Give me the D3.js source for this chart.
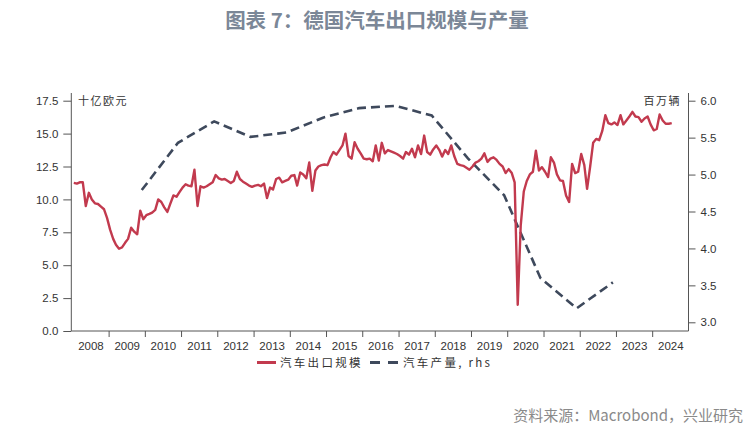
<!DOCTYPE html>
<html><head><meta charset="utf-8">
<script src="https://cdn.jsdelivr.net/npm/d3@7"></script>
<style>
html,body{margin:0;padding:0;background:#fff;}
svg{display:block;}
</style></head>
<body>
<svg id="chart" width="754" height="440"></svg>
<script>
// ---- data ----
const titleText = "图表 7：德国汽车出口规模与产量";
const sourceText = "资料来源：Macrobond，兴业研究";
const leftUnit = "十亿欧元";
const rightUnit = "百万辆";
const seriesNames = ["汽车出口规模", "汽车产量, rhs"];
const startYear = 2008;
// monthly car exports, bn EUR, Jan 2008 - Jul 2024
const exportValues = [
  11.25, 11.2, 11.3, 11.3, 9.5, 10.5, 10.0, 9.7, 9.65, 9.45, 9.25, 8.6,
  7.7, 7.0, 6.55, 6.25, 6.35, 6.7, 7.0, 7.85, 7.55, 7.35, 9.15, 8.5,
  8.8, 8.9, 9.0, 9.2, 10.0, 9.8, 9.4, 9.05, 9.7, 10.3, 10.2, 10.55,
  10.9, 11.15, 11.05, 11.0, 12.25, 9.5, 11.0, 10.9, 11.0, 11.15, 11.3, 11.85,
  11.6, 11.5, 11.55, 11.4, 11.25, 11.4, 12.1, 11.55, 11.35, 11.2, 11.05, 10.95,
  11.05, 11.1, 11.0, 11.2, 10.1, 10.9, 10.75, 11.55, 11.65, 11.3, 11.4, 11.5,
  11.8, 11.85, 11.05, 12.05, 11.9, 11.6, 12.8, 10.65, 12.2, 12.5, 12.6, 12.65,
  12.6, 13.2, 13.6, 13.4, 13.75, 14.1, 15.0, 13.3, 13.1, 14.35, 13.85, 13.5,
  13.1, 13.05, 13.1, 12.9, 14.1, 12.95, 14.3, 13.5, 13.75, 13.65, 13.55, 13.45,
  13.3, 13.1, 13.6, 13.4, 13.85, 13.2, 14.1, 13.45, 14.85, 13.6, 13.4, 13.8,
  14.1, 13.75, 13.25, 13.75, 13.45, 14.1, 13.3, 12.7, 12.6, 12.55, 12.4, 12.25,
  12.5, 12.8, 12.9, 13.1, 13.5, 12.85, 13.1, 13.2, 13.0, 12.7, 12.5, 12.0,
  12.3, 12.0, 11.3, 2.0, 8.0, 10.6, 11.4, 11.9, 12.1, 13.7, 12.2, 12.45,
  12.1, 11.7, 13.2, 12.8, 11.9, 11.45, 11.4, 10.3, 9.8, 12.7, 12.0, 12.1,
  13.45, 12.6, 10.8, 12.5, 14.3, 14.6, 14.5, 15.2, 16.4, 15.8, 15.7, 15.85,
  15.65, 16.4, 15.7, 16.0, 16.3, 16.65, 16.3, 16.25, 15.9, 16.15, 16.3, 15.7,
  15.25, 15.35, 16.45, 16.0, 15.75, 15.75, 15.8
];
// annual car production, million units (plotted at year end)
const productionYears = [2009, 2010, 2011, 2012, 2013, 2014, 2015, 2016, 2017, 2018, 2019, 2020, 2021, 2022];
const productionValues = [4.79, 5.43, 5.72, 5.51, 5.57, 5.77, 5.90, 5.93, 5.80, 5.22, 4.72, 3.60, 3.19, 3.54];
const xYears = [2008, 2009, 2010, 2011, 2012, 2013, 2014, 2015, 2016, 2017, 2018, 2019, 2020, 2021, 2022, 2023, 2024];
const leftTicks = [0, 2.5, 5, 7.5, 10, 12.5, 15, 17.5];
const rightTicks = [3.0, 3.5, 4.0, 4.5, 5.0, 5.5, 6.0];

// ---- layout ----
const svg = d3.select("#chart");
const X0 = 72.3, X1 = 688.5, YB = 331, YT = 93;
const red = "#c23a4e", navy = "#3e495c", axisCol = "#555", txt = "#333";

const x = d3.scaleTime()
  .domain([new Date(startYear, 0, 1), new Date(2025, 0, 1)])
  .range([X0, X1]);
const yL = d3.scaleLinear().domain([0, 17.5]).range([331, 100.7]);
const yR = d3.scaleLinear().domain([3.0, 6.0]).range([322.3, 100.7]);

const exportData = exportValues.map((v, i) => ({ d: new Date(startYear, i, 16), v }));
const prodData = productionYears.map((yr, i) => ({ d: new Date(yr, 11, 1), v: productionValues[i] }));

// title
svg.append("text").attr("x", 377).attr("y", 28).attr("text-anchor", "middle")
  .attr("font-family", "'Noto Sans CJK SC', sans-serif").attr("font-weight", "bold")
  .attr("font-size", 20.5).attr("fill", "#7b8797").text(titleText);

// axes
const fontNum = "'Liberation Sans', Arial, sans-serif";
const gL = svg.append("g").attr("transform", `translate(${X0 - 1},0)`)
  .call(d3.axisLeft(yL).tickValues(leftTicks).tickFormat(d3.format(".1f")).tickSize(8).tickSizeOuter(0));
const gR = svg.append("g").attr("transform", `translate(${X1},0)`)
  .call(d3.axisRight(yR).tickValues(rightTicks).tickFormat(d3.format(".1f")).tickSize(7).tickSizeOuter(0));
const gB = svg.append("g").attr("transform", `translate(0,${YB})`)
  .call(d3.axisBottom(x).tickValues(xYears.slice(1).map(y => new Date(y, 0, 1))).tickFormat("").tickSize(6).tickSizeOuter(0));
const gBL = svg.append("g").attr("transform", `translate(0,${YB})`)
  .call(d3.axisBottom(x).tickValues(xYears.map(y => new Date(y, 6, 2))).tickFormat(d3.timeFormat("%Y")).tickSize(0).tickPadding(11));

[gL, gR, gB, gBL].forEach(g => {
  g.select(".domain").remove();
  g.selectAll("line").attr("stroke", axisCol);
  g.selectAll("text").attr("font-family", fontNum).attr("font-size", 11.5).attr("fill", txt);
});
gL.selectAll("text").attr("x", -13);
gR.selectAll("text").attr("x", 12);

// axis lines
svg.append("line").attr("x1", X0 - 1).attr("x2", X0 - 1).attr("y1", YT).attr("y2", YB).attr("stroke", axisCol);
svg.append("line").attr("x1", X1).attr("x2", X1).attr("y1", YT).attr("y2", YB).attr("stroke", axisCol);
svg.append("line").attr("x1", X0 - 1).attr("x2", X1).attr("y1", YB).attr("y2", YB).attr("stroke", axisCol);

// unit labels
const cjk = "'Noto Sans CJK SC', sans-serif";
svg.append("text").attr("x", 78).attr("y", 105).attr("font-family", cjk).attr("font-size", 11)
  .attr("letter-spacing", 1.5).attr("fill", txt).text(leftUnit);
svg.append("text").attr("x", 681).attr("y", 105).attr("text-anchor", "end").attr("font-family", cjk).attr("font-size", 11)
  .attr("letter-spacing", 1.5).attr("fill", txt).text(rightUnit);

// lines
svg.append("path").datum(prodData)
  .attr("d", d3.line().x(d => x(d.d)).y(d => yR(d.v)))
  .attr("fill", "none").attr("stroke", navy).attr("stroke-width", 2.6).attr("stroke-dasharray", "9,5");
svg.append("path").datum(exportData)
  .attr("d", d3.line().x(d => x(d.d)).y(d => yL(d.v)))
  .attr("fill", "none").attr("stroke", red).attr("stroke-width", 2.4).attr("stroke-linejoin", "round");

// legend
const ly = 362.5;
svg.append("line").attr("x1", 257).attr("x2", 276).attr("y1", ly).attr("y2", ly).attr("stroke", red).attr("stroke-width", 3);
svg.append("text").attr("x", 280).attr("y", ly + 4.5).attr("font-family", cjk).attr("font-size", 11.5)
  .attr("letter-spacing", 2.3).attr("fill", txt).text(seriesNames[0]);
svg.append("line").attr("x1", 370).attr("x2", 398).attr("y1", ly).attr("y2", ly).attr("stroke", navy).attr("stroke-width", 3).attr("stroke-dasharray", "10,8");
svg.append("text").attr("x", 403).attr("y", ly + 4.5).attr("font-family", cjk).attr("font-size", 11.5)
  .attr("letter-spacing", 2.3).attr("fill", txt).text(seriesNames[1]);

// source
svg.append("text").attr("x", 743).attr("y", 421).attr("text-anchor", "end").attr("font-family", cjk)
  .attr("font-size", 15).attr("fill", "#8a8a8a").text(sourceText);
</script>
</body></html>
